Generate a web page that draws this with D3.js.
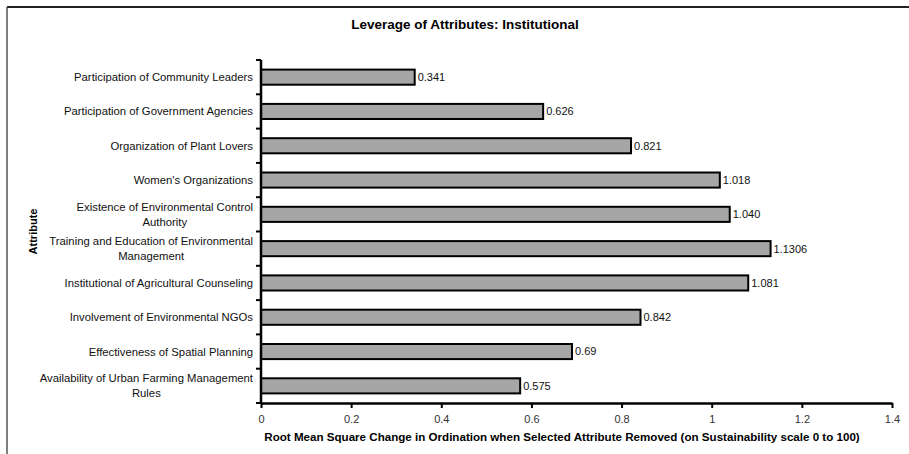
<!DOCTYPE html>
<html>
<head>
<meta charset="utf-8">
<script src="https://cdn.jsdelivr.net/npm/d3@7"></script>
<style>
  body { margin: 0; background: #fff; }
  svg { display: block; font-family: "Liberation Sans", Arial, sans-serif; }
</style>
</head>
<body>
<svg id="chart" width="909" height="454"></svg>
<script>
// attributes, top to bottom
const attributes = [
    ['Participation of Community Leaders'],
    ['Participation of Government Agencies'],
    ['Organization of Plant Lovers'],
    ["Women's Organizations"],
    ['Existence of Environmental Control', 'Authority'],
    ['Training and Education of Environmental', 'Management'],
    ['Institutional of Agricultural Counseling'],
    ['Involvement of Environmental NGOs'],
    ['Effectiveness of Spatial Planning'],
    ['Availability of Urban Farming Management', 'Rules']
];
const values = [0.341, 0.626, 0.821, 1.018, 1.040, 1.1306, 1.081, 0.842, 0.69, 0.575];
const valueLabels = ['0.341', '0.626', '0.821', '1.018', '1.040', '1.1306', '1.081', '0.842', '0.69', '0.575'];
const xTicks = [0, 0.2, 0.4, 0.6, 0.8, 1, 1.2, 1.4];

const svg = d3.select('#chart');
const plotLeft = 261, plotRight = 892, plotTop = 60, plotBottom = 403;

// frame
svg.append('line').attr('x1', 7).attr('x2', 909).attr('y1', 7).attr('y2', 7)
    .attr('stroke', '#222').attr('stroke-width', 2);
svg.append('line').attr('x1', 7).attr('x2', 7).attr('y1', 7).attr('y2', 454)
    .attr('stroke', '#555').attr('stroke-width', 1.5);

let x = d3.scaleLinear().domain([0, 1.4]).range([plotLeft, plotRight]);
let y = d3.scaleBand().domain(d3.range(values.length)).range([plotTop, plotBottom]).paddingInner(0.56).paddingOuter(0.28);
let yb = d3.scaleBand().domain(d3.range(values.length)).range([plotTop, plotBottom]);

// bars
svg.selectAll('rect.bar').data(values).enter().append('rect')
    .attr('class', 'bar')
    .attr('x', x(0))
    .attr('y', (d, i) => y(i))
    .attr('width', d => x(d) - x(0))
    .attr('height', y.bandwidth())
    .attr('fill', '#a6a6a6')
    .attr('stroke', '#000')
    .attr('stroke-width', 2);

// value labels
svg.selectAll('text.val').data(values).enter().append('text')
    .attr('class', 'val')
    .attr('x', d => x(d) + 3)
    .attr('y', (d, i) => y(i) + y.bandwidth() / 2)
    .attr('dy', '0.35em')
    .attr('font-size', 11)
    .attr('fill', '#111')
    .text((d, i) => valueLabels[i]);

// y axis line and ticks on band edges
svg.append('line').attr('x1', plotLeft).attr('x2', plotLeft).attr('y1', plotTop).attr('y2', plotBottom)
    .attr('stroke', '#000').attr('stroke-width', 2.5);
const edges = d3.range(values.length + 1).map(i => i < values.length ? yb(i) : plotBottom);
svg.selectAll('line.ytick').data(edges).enter().append('line')
    .attr('class', 'ytick')
    .attr('x1', plotLeft - 5).attr('x2', plotLeft)
    .attr('y1', d => d).attr('y2', d => d)
    .attr('stroke', '#000').attr('stroke-width', 2);

// category labels (wrapped lines centred within a right-aligned block)
const labelRight = 253;
attributes.forEach((lines, i) => {
    const cy = yb(i) + yb.bandwidth() / 2;
    const g = svg.append('g');
    const texts = lines.map((ln, j) => g.append('text')
        .attr('y', cy + (j - (lines.length - 1) / 2) * 15)
        .attr('dy', '0.35em')
        .attr('font-size', 11.3)
        .attr('fill', '#111')
        .attr('text-anchor', 'middle')
        .text(ln));
    const w = d3.max(texts, t => t.node().getComputedTextLength());
    texts.forEach(t => t.attr('x', labelRight - w / 2));
});

// x axis
const xAxis = svg.append('g').attr('transform', `translate(0,${plotBottom})`)
    .call(d3.axisBottom(x).tickValues(xTicks).tickSize(5).tickSizeOuter(0).tickFormat(d => String(d)));
xAxis.select('.domain').attr('stroke-width', 2.5);
xAxis.selectAll('.tick line').attr('stroke-width', 2);
xAxis.selectAll('.tick text')
    .attr('font-size', 11)
    .attr('font-family', '"Liberation Sans", Arial, sans-serif')
    .attr('fill', '#333')
    .attr('dy', '1.1em');

// titles
svg.append('text').attr('x', 465).attr('y', 29)
    .attr('text-anchor', 'middle').attr('font-size', 13.5).attr('font-weight', 'bold')
    .text('Leverage of Attributes: Institutional');
svg.append('text').attr('x', 562).attr('y', 441)
    .attr('text-anchor', 'middle').attr('font-size', 11.6).attr('font-weight', 'bold')
    .text('Root Mean Square Change in Ordination when Selected Attribute Removed (on Sustainability scale 0 to 100)');
svg.append('text')
    .attr('transform', `translate(37,${(plotTop + plotBottom) / 2}) rotate(-90)`)
    .attr('text-anchor', 'middle').attr('font-size', 11).attr('font-weight', 'bold')
    .text('Attribute');
</script>
</body>
</html>
